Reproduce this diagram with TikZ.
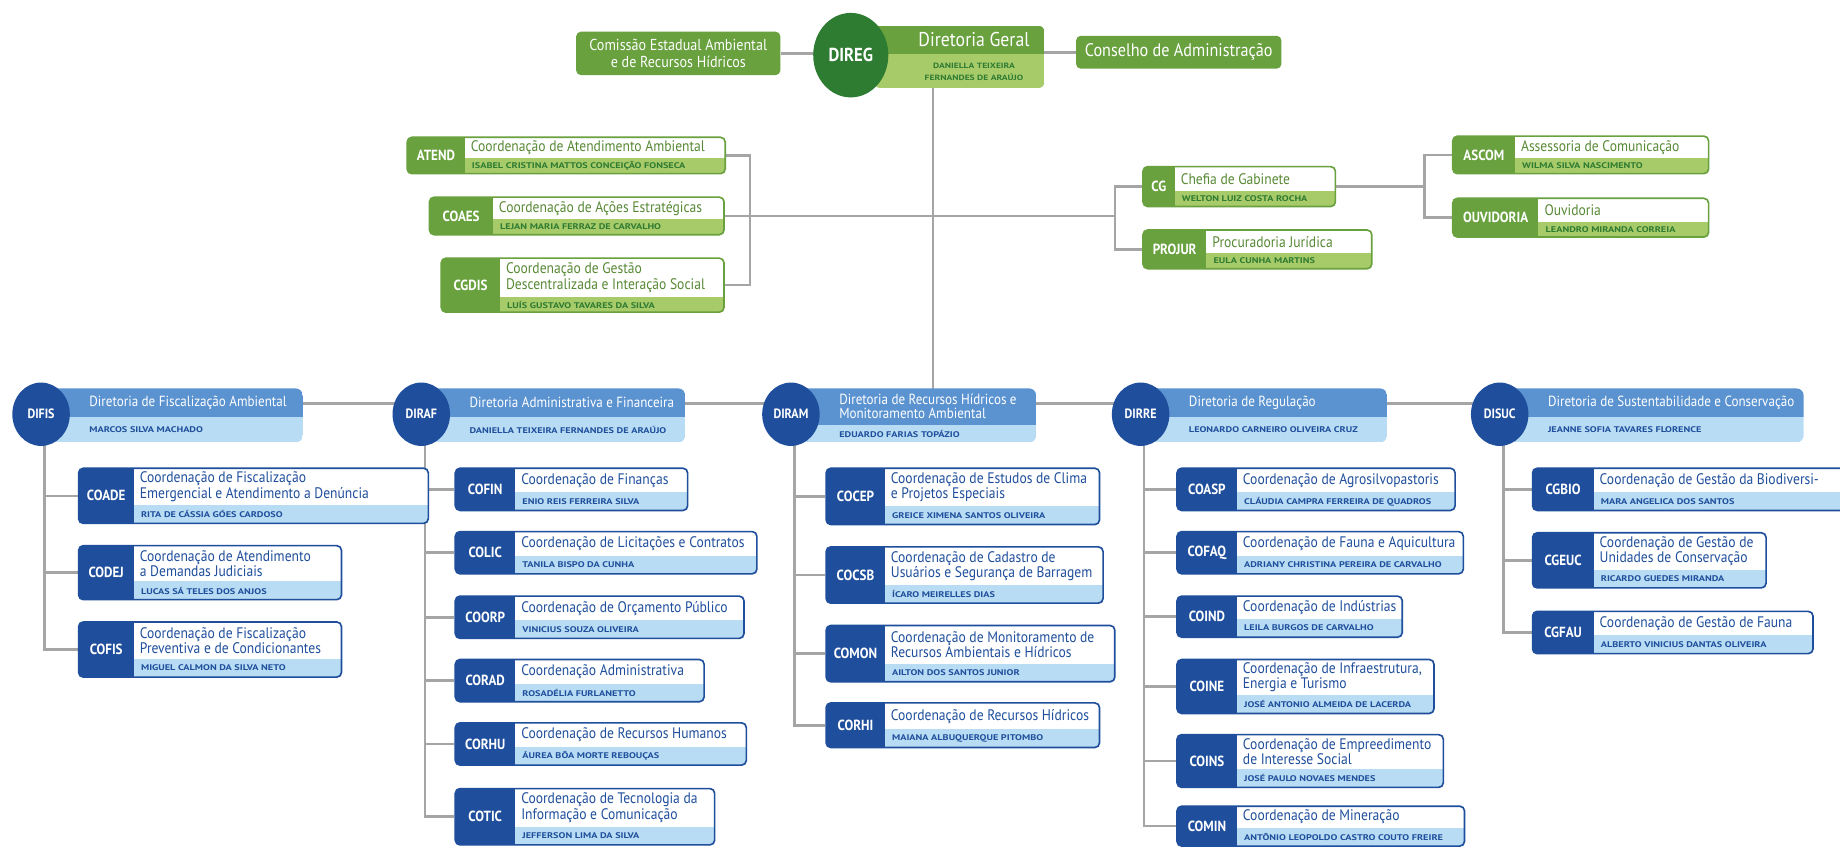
\documentclass[tikz,border=0pt]{standalone}
\usepackage{fontspec}
\setmainfont{PT Sans}[FakeStretch=0.89]
\newfontfamily\namefont{PT Sans}[FakeStretch=1.25]
\usepackage{tikz}
\usetikzlibrary{shapes.geometric,fit}
\usepackage{xcolor}
\definecolor{bluedark}{HTML}{1F4F9C}
\definecolor{bluemid}{HTML}{5B93D1}
\definecolor{bluelight}{HTML}{B8DCF4}
\definecolor{greendark}{HTML}{2E7B32}
\definecolor{greenmid}{HTML}{68A13E}
\definecolor{greenlight}{HTML}{A8CB69}
\definecolor{linegray}{HTML}{A5A5A5}
\pgfdeclarelayer{bgfill}
\pgfdeclarelayer{lines}
\pgfsetlayers{bgfill,lines,main}
\newcommand{\bandh}{15}
\newcommand{\unitbox}[9]{%
  \begin{scope}
    \clip[rounded corners=4pt] (#3,#4) rectangle (#5,#6);
    \fill[white] (#3,#4) rectangle (#5,#6);
    \fill[uband] (#7,#6-\bandh) rectangle (#5,#6);
    \fill[udark] (#3,#4) rectangle (#7,#6);
  \end{scope}
  \node[unitframe,fit={(#3,#4) (#5,#6)}] (#1) {};
  \node[codetext] (#1-c) at ({(#3+#7)/2},{(#4+#6)/2}) {#2};
  \node[titletext] (#1-t) at (#7+5,{(#4+#6-\bandh)/2}) {#8};
  \node[nametext] (#1-n) at (#7+6,{#6-\bandh/2}) {#9};
}
\newcommand{\dirbox}[7]{%
  \begin{scope}
    \clip[rounded corners=6pt] (#3,331) rectangle (#4,377);
    \fill[bluemid] (#3,331) rectangle (#4,#5);
    \fill[bluelight] (#3,#5) rectangle (#4,377);
  \end{scope}
  \node[fit={(#3,331) (#4,377)},inner sep=0pt] (#1-b) {};
  \node[dirtitle] (#1-t) at (#3+41,{(331+#5)/2}) {#6};
  \node[dirname] (#1-n) at (#3+41,{(#5+377)/2}) {#7};
  \node[dircircle] (#1) at (#3,353) {#2};
}
\begin{document}
\begin{tikzpicture}[x=1pt,y=-1pt,
  conn/.style={draw=linegray,line width=2.2pt},
  unitframe/.style={draw=udark,line width=1.4pt,rounded corners=4pt,inner sep=0pt},
  codetext/.style={text=white,inner sep=0pt,font=\bfseries\fontsize{12.5}{13}\selectfont},
  titletext/.style={anchor=west,align=left,text=utext,inner sep=0pt,font=\fontsize{13}{13}\selectfont},
  nametext/.style={anchor=west,text=uname,inner sep=0pt,font=\namefont\bfseries\fontsize{7}{8}\selectfont},
  dircircle/.style={ellipse,fill=bluedark,text=white,minimum width=49pt,minimum height=54pt,inner sep=0pt,font=\bfseries\fontsize{11.5}{12}\selectfont},
  dirtitle/.style={anchor=west,align=left,text=white,inner sep=0pt,font=\fontsize{12.5}{12}\selectfont},
  dirname/.style={anchor=west,text=bluedark,inner sep=0pt,font=\namefont\bfseries\fontsize{7}{8}\selectfont},
  topbox/.style={fill=greenmid,rounded corners=4pt,text=white,align=center,inner sep=0pt}]
\useasboundingbox (0,0) rectangle (1568,723);
\begin{pgfonlayer}{bgfill}
\fill[white] (0,0) rectangle (1568,723);
\end{pgfonlayer}
\coordinate (trunk) at (795,0);
\coordinate (lbr) at (639,0);
\coordinate (rbr) at (950,0);
\coordinate (sbr) at (1214,0);

\node[topbox,minimum width=174pt,minimum height=37pt,font=\fontsize{13.5}{15}\selectfont] (cerh) at (578,45.5) {Comissão Estadual Ambiental\\e de Recursos Hídricos};
\node[topbox,minimum width=175pt,minimum height=28pt,font=\fontsize{15.5}{16}\selectfont] (conselho) at (1004.5,44.5) {Conselho de Administração};
\begin{scope}
  \clip[rounded corners=5pt] (745,22) rectangle (890,75);
  \fill[greenmid] (745,22) rectangle (890,46);
  \fill[greenlight] (745,46) rectangle (890,75);
\end{scope}
\node[fit={(745,22) (890,75)},inner sep=0pt] (dirgeral) {};
\node[text=white,font=\fontsize{17}{18}\selectfont] (dirgeral-t) at (830,34) {Diretoria Geral};
\node[text=greendark,align=center,font=\namefont\bfseries\fontsize{6.5}{10}\selectfont] (dirgeral-n) at (830,61) {DANIELLA TEIXEIRA\\FERNANDES DE ARAÚJO};
\node[ellipse,fill=greendark,text=white,minimum width=64pt,minimum height=72pt,inner sep=0pt,font=\bfseries\fontsize{16}{17}\selectfont] (direg) at (725,47) {DIREG};

\colorlet{udark}{greenmid}
\colorlet{uband}{greenlight}
\colorlet{utext}{greenmid!85!black}
\colorlet{uname}{greendark}
\renewcommand{\bandh}{13}
\unitbox{atend}{ATEND}{347}{117}{618}{148}{396}{Coordenação de Atendimento Ambiental}{ISABEL CRISTINA MATTOS CONCEIÇÃO FONSECA}
\unitbox{coaes}{COAES}{366}{168}{617}{200}{420}{Coordenação de Ações Estratégicas}{LEJAN MARIA FERRAZ DE CARVALHO}
\unitbox{cgdis}{CGDIS}{376}{220}{617}{266}{426}{Coordenação de Gestão\\Descentralizada e Interação Social}{LUÍS GUSTAVO TAVARES DA SILVA}
\unitbox{cg}{CG}{974}{142}{1138}{176}{1001}{Chefia de Gabinete}{WELTON LUIZ COSTA ROCHA}
\unitbox{projur}{PROJUR}{974}{196}{1169}{229}{1028}{Procuradoria Jurídica}{EULA CUNHA MARTINS}
\unitbox{ascom}{ASCOM}{1238}{116}{1456}{148}{1291}{Assessoria de Comunicação}{WILMA SILVA NASCIMENTO}
\unitbox{ouvid}{OUVIDORIA}{1238}{169}{1456}{202}{1311}{Ouvidoria}{LEANDRO MIRANDA CORREIA}

\dirbox{difis}{DIFIS}{35}{258}{355}{Diretoria de Fiscalização Ambiental}{MARCOS SILVA MACHADO}
\dirbox{diraf}{DIRAF}{359}{584}{355}{Diretoria Administrativa e Financeira}{DANIELLA TEIXEIRA FERNANDES DE ARAÚJO}
\dirbox{diram}{DIRAM}{674}{883}{362}{Diretoria de Recursos Hídricos e\\Monitoramento Ambiental}{EDUARDO FARIAS TOPÁZIO}
\dirbox{dirre}{DIRRE}{972}{1182}{355}{Diretoria de Regulação}{LEONARDO CARNEIRO OLIVEIRA CRUZ}
\dirbox{disuc}{DISUC}{1278}{1537}{355}{Diretoria de Sustentabilidade e Conservação}{JEANNE SOFIA TAVARES FLORENCE}

\colorlet{udark}{bluedark}
\colorlet{uband}{bluelight}
\colorlet{utext}{bluedark}
\colorlet{uname}{bluedark}
\renewcommand{\bandh}{15.5}
\unitbox{coade}{COADE}{67}{399}{365}{446}{114}{Coordenação de Fiscalização\\Emergencial e Atendimento a Denúncia}{RITA DE CÁSSIA GÓES CARDOSO}
\unitbox{codej}{CODEJ}{67}{465}{291}{511}{114}{Coordenação de Atendimento\\a Demandas Judiciais}{LUCAS SÁ TELES DOS ANJOS}
\unitbox{cofis}{COFIS}{67}{530}{291}{577}{114}{Coordenação de Fiscalização\\Preventiva e de Condicionantes}{MIGUEL CALMON DA SILVA NETO}

\unitbox{cofin}{COFIN}{388}{399}{586}{435}{439}{Coordenação de Finanças}{ENIO REIS FERREIRA SILVA}
\unitbox{colic}{COLIC}{388}{453}{645}{489}{439}{Coordenação de Licitações e Contratos}{TANILA BISPO DA CUNHA}
\unitbox{coorp}{COORP}{388}{508}{634}{544}{439}{Coordenação de Orçamento Público}{VINICIUS SOUZA OLIVEIRA}
\unitbox{corad}{CORAD}{388}{562}{600}{598}{439}{Coordenação Administrativa}{ROSADÉLIA FURLANETTO}
\unitbox{corhu}{CORHU}{388}{616}{636}{652}{439}{Coordenação de Recursos Humanos}{ÁUREA BÔA MORTE REBOUÇAS}
\unitbox{cotic}{COTIC}{388}{672}{609}{720}{439}{Coordenação de Tecnologia da\\Informação e Comunicação}{JEFFERSON LIMA DA SILVA}

\unitbox{cocep}{COCEP}{704}{399}{937}{447}{754}{Coordenação de Estudos de Clima\\e Projetos Especiais}{GREICE XIMENA SANTOS OLIVEIRA}
\unitbox{cocsb}{COCSB}{704}{466}{940}{514}{754}{Coordenação de Cadastro de\\Usuários e Segurança de Barragem}{ÍCARO MEIRELLES DIAS}
\unitbox{comon}{COMON}{704}{533}{950}{581}{754}{Coordenação de Monitoramento de\\Recursos Ambientais e Hídricos}{AILTON DOS SANTOS JUNIOR}
\unitbox{corhi}{CORHI}{704}{599}{937}{637}{754}{Coordenação de Recursos Hídricos}{MAIANA ALBUQUERQUE PITOMBO}

\unitbox{coasp}{COASP}{1003}{399}{1240}{435}{1054}{Coordenação de Agrosilvopastoris}{CLÁUDIA CAMPRA FERREIRA DE QUADROS}
\unitbox{cofaq}{COFAQ}{1003}{453}{1247}{489}{1054}{Coordenação de Fauna e Aquicultura}{ADRIANY CHRISTINA PEREIRA DE CARVALHO}
\unitbox{coind}{COIND}{1003}{508}{1195}{543}{1054}{Coordenação de Indústrias}{LEILA BURGOS DE CARVALHO}
\unitbox{coine}{COINE}{1003}{562}{1222}{608}{1054}{Coordenação de Infraestrutura,\\Energia e Turismo}{JOSÉ ANTONIO ALMEIDA DE LACERDA}
\unitbox{coins}{COINS}{1003}{626}{1230}{671}{1054}{Coordenação de Empreedimento\\de Interesse Social}{JOSÉ PAULO NOVAES MENDES}
\unitbox{comin}{COMIN}{1003}{687}{1248}{721}{1054}{Coordenação de Mineração}{ANTÔNIO LEOPOLDO CASTRO COUTO FREIRE}

\unitbox{cgbio}{CGBIO}{1306}{399}{1600}{435}{1358}{Coordenação de Gestão da Biodiversi-}{MARA ANGELICA DOS SANTOS}
\unitbox{cgeuc}{CGEUC}{1306}{454}{1505}{501}{1358}{Coordenação de Gestão de\\Unidades de Conservação}{RICARDO GUEDES MIRANDA}
\unitbox{cgfau}{CGFAU}{1306}{521}{1545}{557}{1358}{Coordenação de Gestão de Fauna}{ALBERTO VINICIUS DANTAS OLIVEIRA}

\begin{pgfonlayer}{lines}
\draw[conn] (cerh.east) -- (cerh.east -| direg.center);
\draw[conn] (conselho.west) -- (conselho.west -| dirgeral.center);
\draw[conn] (dirgeral.south -| trunk) -- (trunk |- diram-b.center);
\draw[conn] (atend.east) -| (lbr |- cgdis.east) -- (cgdis.east);
\draw[conn] (coaes.east) -- (rbr |- coaes.east);
\draw[conn] (cg.west) -| (rbr |- projur.west) -- (projur.west);
\draw[conn] (cg.east) -- (sbr |- cg.east);
\draw[conn] (ascom.west) -| (sbr |- ouvid.west) -- (ouvid.west);
\draw[conn] ([yshift=9pt]difis.center) -- ([yshift=9pt]disuc.center);
\draw[conn] ([xshift=3pt]difis.center) |- (coade.west);
\draw[conn] ([xshift=3pt]difis.center) |- (codej.west);
\draw[conn] ([xshift=3pt]difis.center) |- (cofis.west);
\draw[conn] ([xshift=3pt]diraf.center) |- (cofin.west);
\draw[conn] ([xshift=3pt]diraf.center) |- (colic.west);
\draw[conn] ([xshift=3pt]diraf.center) |- (coorp.west);
\draw[conn] ([xshift=3pt]diraf.center) |- (corad.west);
\draw[conn] ([xshift=3pt]diraf.center) |- (corhu.west);
\draw[conn] ([xshift=3pt]diraf.center) |- (cotic.west);
\draw[conn] ([xshift=3pt]diram.center) |- (cocep.west);
\draw[conn] ([xshift=3pt]diram.center) |- (cocsb.west);
\draw[conn] ([xshift=3pt]diram.center) |- (comon.west);
\draw[conn] ([xshift=3pt]diram.center) |- (corhi.west);
\draw[conn] ([xshift=3pt]dirre.center) |- (coasp.west);
\draw[conn] ([xshift=3pt]dirre.center) |- (cofaq.west);
\draw[conn] ([xshift=3pt]dirre.center) |- (coind.west);
\draw[conn] ([xshift=3pt]dirre.center) |- (coine.west);
\draw[conn] ([xshift=3pt]dirre.center) |- (coins.west);
\draw[conn] ([xshift=3pt]dirre.center) |- (comin.west);
\draw[conn] ([xshift=3pt]disuc.center) |- (cgbio.west);
\draw[conn] ([xshift=3pt]disuc.center) |- (cgeuc.west);
\draw[conn] ([xshift=3pt]disuc.center) |- (cgfau.west);
\end{pgfonlayer}
\end{tikzpicture}
\end{document}
